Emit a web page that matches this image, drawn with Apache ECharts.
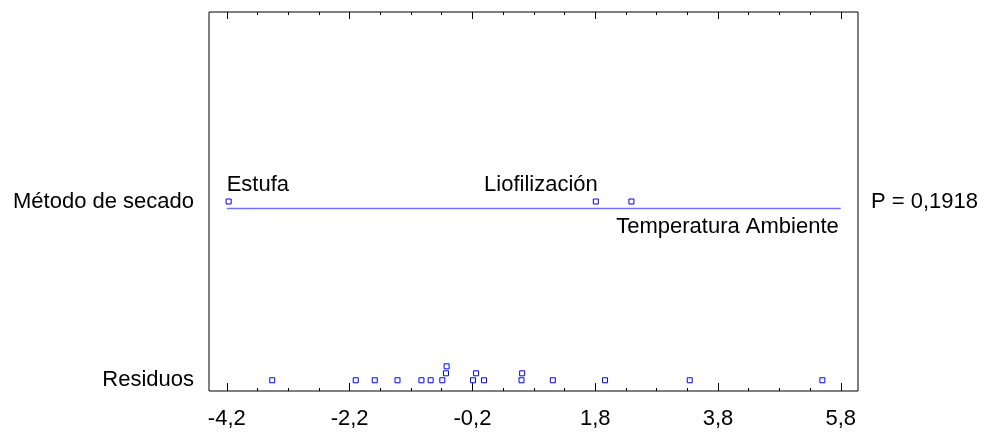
<!DOCTYPE html>
<html>
<head>
<meta charset="utf-8">
<script src="https://cdn.jsdelivr.net/npm/echarts@6/dist/echarts.min.js"></script>
<style>
  html, body { margin: 0; padding: 0; background: #fff; }
  #chart { width: 989px; height: 432px; }
</style>
</head>
<body>
<div id="chart"></div>
<script>
// ---------- data ----------
const rowNames = ['Residuos', 'Método de secado'];
const methodNames = ['Estufa', 'Liofilización', 'Temperatura Ambiente'];
const methodValues = [-4.17, 1.81, 2.39];
const residuals = [-3.46, -2.10, -1.79, -1.42, -1.03, -0.88, -0.69, -0.63, -0.62,
  -0.19, -0.14, -0.01, 0.60, 0.61, 1.11, 1.96, 3.34, 5.50];
const lineRange = [-4.2, 5.8];
const xTicks = [-4.2, -2.2, -0.2, 1.8, 3.8, 5.8];
const pValueText = 'P = 0,1918';

// ---------- layout helpers ----------
const FONT = "'Liberation Sans', Arial, sans-serif";
const rowResid = 0;   // y position of residuals row
const rowMethod = 1;  // y position of method row
const lineY = 0.961;  // line sits just below the method points
const stackStep = 0.039;

// minor ticks every 0.5 between the majors
const xMinor = [];
xTicks.slice(0, -1).forEach(t => {
  for (let k = 1; k <= 3; k++) xMinor.push(+(t + k * 0.5).toFixed(2));
});

// dot plot stacking: bump a dot up when it overlaps one already placed
const placed = [];
const residData = residuals.map(v => {
  let lvl = 0;
  while (placed.some(p => p.lvl === lvl && Math.abs(p.v - v) < 0.1)) lvl++;
  placed.push({ v, lvl });
  return [v, rowResid + lvl * stackStep];
});

const methodData = methodValues.map(v => [v, rowMethod]);

const fmtX = v => Number(v).toFixed(1).replace('.', ',');

const chart = echarts.init(document.getElementById('chart'));

const xBase = {
  type: 'value',
  min: -4.49,
  max: 6.08,
  axisLine: { show: false, onZero: false },
  splitLine: { show: false },
};

const textStyle = { color: '#000', fontSize: 22, fontFamily: FONT };
const dotStyle = { color: '#fff', borderColor: '#0000ff', borderWidth: 1, opacity: 1 };

const option = {
  backgroundColor: '#ffffff',
  animation: false,
  grid: {
    left: 209,
    right: 131,
    top: 12,
    bottom: 41,
    show: true,
    borderColor: '#000',
    borderWidth: 1,
    backgroundColor: 'transparent',
    outerBoundsMode: 'none',
  },
  xAxis: [
    {
      ...xBase,
      position: 'bottom',
      axisTick: { inside: true, length: 8, lineStyle: { color: '#000' }, customValues: xTicks },
      axisLabel: { customValues: xTicks, formatter: fmtX, ...textStyle, margin: 17 },
    },
    {
      ...xBase,
      position: 'bottom',
      axisTick: { inside: true, length: 3, lineStyle: { color: '#000' }, customValues: xMinor },
      axisLabel: { show: false },
    },
    {
      ...xBase,
      position: 'top',
      axisTick: { inside: true, length: 7, lineStyle: { color: '#000' }, customValues: xTicks },
      axisLabel: { show: false },
    },
    {
      ...xBase,
      position: 'top',
      axisTick: { inside: true, length: 3, lineStyle: { color: '#000' }, customValues: xMinor },
      axisLabel: { show: false },
    },
  ],
  yAxis: [
    {
      type: 'value',
      min: -0.06,
      max: 2.06,
      position: 'left',
      axisLine: { show: false, onZero: false },
      axisTick: { show: false },
      splitLine: { show: false },
      axisLabel: {
        customValues: [rowResid, rowMethod],
        formatter: v => rowNames[Math.round(v)],
        ...textStyle,
        margin: 15,
      },
    },
    {
      type: 'value',
      min: -0.06,
      max: 2.06,
      position: 'right',
      axisLine: { show: false, onZero: false },
      axisTick: { show: false },
      splitLine: { show: false },
      axisLabel: {
        customValues: [rowMethod],
        formatter: () => pValueText,
        ...textStyle,
        margin: 13,
      },
    },
  ],
  series: [
    {
      name: 'linea',
      type: 'line',
      silent: true,
      showSymbol: false,
      data: [[lineRange[0], lineY], [lineRange[1], lineY]],
      lineStyle: { color: '#7373ff', width: 1.6 },
      z: 1,
    },
    {
      name: 'metodos',
      type: 'scatter',
      symbol: 'rect',
      symbolSize: 5,
      data: methodData,
      itemStyle: dotStyle,
      z: 3,
    },
    {
      name: 'residuos',
      type: 'scatter',
      symbol: 'rect',
      symbolSize: 5,
      data: residData,
      itemStyle: dotStyle,
      z: 3,
    },
    {
      name: 'etiquetas',
      type: 'scatter',
      symbolSize: 0,
      silent: true,
      itemStyle: { opacity: 1 },
      data: [
        {
          value: [methodValues[0], rowMethod],
          label: { ...textStyle, formatter: methodNames[0], position: 'top', align: 'left', distance: 6, offset: [-2, 0] },
        },
        {
          value: [methodValues[1], rowMethod],
          label: { ...textStyle, formatter: methodNames[1], position: 'top', align: 'right', distance: 6, offset: [2, 0] },
        },
        {
          value: [lineRange[1], lineY],
          label: { ...textStyle, formatter: methodNames[2], position: 'bottom', align: 'right', distance: 7, offset: [-2, 0] },
        },
      ],
      label: { show: true, ...textStyle },
      z: 4,
    },
  ],
};

chart.setOption(option);
window.addEventListener('resize', () => chart.resize());
</script>
</body>
</html>
